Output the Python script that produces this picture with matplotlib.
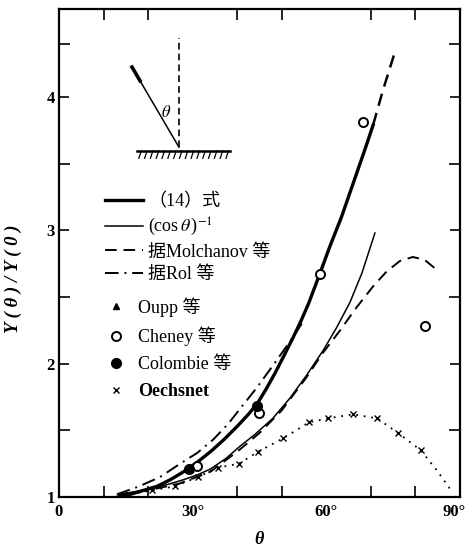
import numpy as np
import matplotlib
matplotlib.use("Agg")
from matplotlib import pyplot as plt
from matplotlib.lines import Line2D
from matplotlib.transforms import ScaledTranslation

plt.rcParams['font.family'] = ['Liberation Serif', 'Noto Sans CJK SC', 'DejaVu Sans']
plt.rcParams['mathtext.fontset'] = 'stix'

# (14) 式
theta_14 = [13.2, 16, 19, 22, 25, 28, 31, 34, 37, 40, 42.5, 44.5, 46.5, 48.5,
            50.5, 52.6, 54.3, 56, 58.6, 60.8, 63.4, 66, 68.7, 70.5]
y_14 = [1.00, 1.02, 1.05, 1.08, 1.13, 1.19, 1.26, 1.34, 1.43, 1.53, 1.62, 1.70, 1.81, 1.93,
        2.06, 2.20, 2.32, 2.45, 2.68, 2.88, 3.10, 3.35, 3.61, 3.79]
# dashed continuation of (14)
theta_14x = [70.5, 72.7, 75.6]
y_14x = [3.79, 4.05, 4.36]

# (cos θ)^-1
theta_cos = [13.5, 17, 21, 25, 28, 31, 34, 37.5, 40.6, 44, 48, 51.8, 55.5, 59.3,
             62.3, 65.3, 68, 70.9]
y_cos = [1.02, 1.04, 1.065, 1.10, 1.13, 1.165, 1.21, 1.29, 1.38, 1.47, 1.59, 1.74, 1.91, 2.10,
         2.27, 2.46, 2.68, 2.98]

# 据Molchanov 等
theta_mol = [13.5, 20, 27, 34, 40, 45, 50, 55.6, 59.2, 63.1, 66.5, 70.5, 73.5, 76.5,
             79.4, 82, 85.3]
y_mol = [1.02, 1.05, 1.10, 1.19, 1.34, 1.48, 1.65, 1.90, 2.08, 2.25, 2.41, 2.58, 2.69, 2.77,
         2.80, 2.78, 2.69]

# 据Rol 等
theta_rol = [13, 18, 22.7, 27.2, 31, 34.6, 38, 40.6, 44.4, 48.1, 51.5, 54.5]
y_rol = [1.02, 1.08, 1.15, 1.25, 1.33, 1.43, 1.55, 1.66, 1.82, 1.99, 2.15, 2.30]

# Oechsnet
theta_oe = [20.9, 26.0, 31.2, 35.7, 40.4, 44.7, 50.3, 56.1, 60.4, 66.0, 71.4, 76.1, 81.2]
y_oe = [1.05, 1.08, 1.15, 1.22, 1.25, 1.34, 1.44, 1.56, 1.59, 1.62, 1.59, 1.48, 1.35]
theta_oe_line = [14.4] + theta_oe + [84.8, 88.2]
y_oe_line = [1.01] + y_oe + [1.20, 1.04]

# Cheney 等, Colombie 等
theta_ch = [31.0, 44.9, 58.6, 68.2, 82.1]
y_ch = [1.23, 1.63, 2.67, 3.81, 2.28]
theta_co = [29.2, 44.4]
y_co = [1.21, 1.68]

xticks = [0, 30, 60, 90]
xticklabels = ['0', '30°', '60°', '90°']
yticks = [1, 2, 3, 4]

fig = plt.figure(figsize=(4.7, 5.52), dpi=100)
ax = fig.add_axes([59/470, 1-497/552, 401/470, 488/552])

l14, = ax.plot(theta_14, y_14, color='k', lw=2.4)
ax.plot(theta_14x, y_14x, color='k', lw=1.8, ls=(0, (5, 3)))
lcos, = ax.plot(theta_cos, y_cos, color='k', lw=1.1)
lmol, = ax.plot(theta_mol, y_mol, color='k', lw=1.4, ls=(0, (6, 3.5)))
lrol, = ax.plot(theta_rol, y_rol, color='k', lw=1.4, ls=(0, (7, 3, 1, 3)))
ax.plot(theta_oe_line, y_oe_line, color='k', lw=1.3, ls=(0, (1, 3.2)))
mox, = ax.plot(theta_oe, y_oe, 'x', color='k', ms=5, mew=1.0)
moc, = ax.plot(theta_ch, y_ch, 'o', mfc='white', mec='k', ms=6.5, mew=1.4)
mco, = ax.plot(theta_co, y_co, 'o', color='k', ms=7)
mtr = Line2D([], [], marker='^', color='k', ls='none', ms=5)

ax.set_xlim(0, 90)
ax.set_ylim(1, 4.66)
ax.set_xticks(xticks)
ax.set_xticklabels(xticklabels, fontsize=12, fontweight='bold')
ax.set_xticks(range(10, 90, 10), minor=True)
ax.set_yticks(yticks)
ax.set_yticklabels([str(v) for v in yticks], fontsize=12, fontweight='bold')
ax.set_yticks([1.5, 2.5, 3.5, 4.4], minor=True)
ax.tick_params(which='both', direction='in', width=1.2, top=True, right=True)
ax.tick_params(which='major', length=7, pad=3)
ax.tick_params(which='minor', length=8)
ax.tick_params(axis='x', which='major', length=0, pad=5)
for s in ax.spines.values():
    s.set_linewidth(1.6)
# keep the last x label inside the figure
lab90 = ax.get_xticklabels()[-1]
lab90.set_transform(lab90.get_transform() + ScaledTranslation(-4/72, 0, fig.dpi_scale_trans))

ax.set_xlabel('θ', fontsize=13, fontweight='bold', fontstyle='italic', labelpad=8)
ax.set_ylabel('Y ( θ ) / Y ( 0 )', fontsize=13.5, fontweight='bold', fontstyle='italic')
ax.yaxis.set_label_coords(-0.092, 0.447)

leg1 = ax.legend([l14, lcos, lmol, lrol],
                 ['（14）式', r'(cos$\,\theta\,$)$^{-1}$', '据Molchanov 等', '据Rol 等'],
                 loc='upper left', bbox_to_anchor=(0.115, 0.622), frameon=False,
                 fontsize=13, handlelength=2.1, handletextpad=0.3,
                 labelspacing=0.3, borderpad=0, borderaxespad=0)
ax.add_artist(leg1)
leg2 = ax.legend([mtr, moc, mco, mox],
                 ['Oupp 等', 'Cheney 等', 'Colombie 等', 'Oechsnet'],
                 loc='upper left', bbox_to_anchor=(0.122, 0.41), frameon=False,
                 fontsize=13, handlelength=0.9, handletextpad=0.75,
                 labelspacing=0.55, borderpad=0, borderaxespad=0)
leg2.get_texts()[3].set_fontweight('bold')

# inset sketch of incidence geometry
tr = ax.transAxes
ax.plot([0.299, 0.299], [0.717, 0.941], color='k', lw=1.2, ls=(0, (4, 2.5)), transform=tr)
ax.plot([0.1945, 0.4264], [0.709, 0.709], color='k', lw=1.8, transform=tr)
for hx in np.arange(0.205, 0.425, 0.0145):
    ax.plot([hx, hx - 0.006], [0.709, 0.694], color='k', lw=0.9, transform=tr)
ax.plot([0.182, 0.299], [0.881, 0.717], color='k', lw=1.1, transform=tr)
ax.plot([0.182, 0.202], [0.881, 0.853], color='k', lw=2.6, transform=tr)
ax.text(0.268, 0.787, r'$\theta$', transform=tr, fontsize=12, ha='center', va='center')

fig.savefig('out.png', dpi=100)
